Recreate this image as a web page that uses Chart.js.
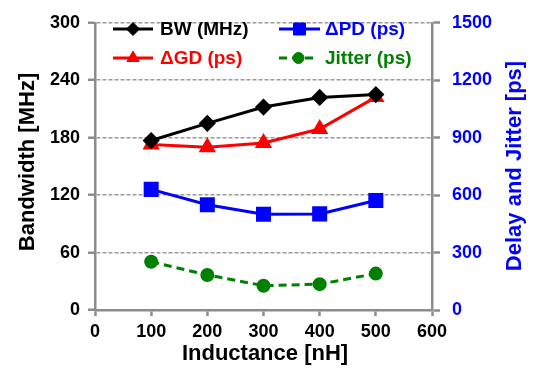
<!DOCTYPE html>
<html>
<head>
<meta charset="utf-8">
<script src="https://cdn.jsdelivr.net/npm/chart.js@4"></script>
<style>
  html, body { margin: 0; padding: 0; background: #fff; }
</style>
</head>
<body>
<canvas id="data-chart" width="535" height="375"></canvas>
<script>
// values
var inductance = [100, 200, 300, 400, 500];
var bandwidth = [177, 195, 212, 222, 225];      // MHz, left axis
var pdDelay = [630, 550, 500, 502, 572];        // ps, right axis
var gdDelay = [865, 850, 872, 945, 1112];       // ps, right axis
var jitter = [252, 183, 127, 135, 190];         // ps, right axis

var xTicks = [0, 100, 200, 300, 400, 500, 600];
var leftTicks = [0, 60, 120, 180, 240, 300];
var rightTicks = [0, 300, 600, 900, 1200, 1500];

var tickFont = { family: 'Liberation Sans', size: 18, weight: 'bold' };
var axisGray = '#8c8c8c';

function pts(ys) {
    return inductance.map(function (x, i) { return { x: x, y: ys[i] }; });
}

// legend drawn inside the plot, two columns
var legendSlots = [
    { ds: 0, x1: 113, x2: 153, y: 29, tx: 160 },
    { ds: 1, x1: 279, x2: 320, y: 29, tx: 325 },
    { ds: 2, x1: 113, x2: 153, y: 58, tx: 160 },
    { ds: 3, x1: 279, x2: 318, y: 58, tx: 325 }
];

var extras = {
    id: 'extras',
    afterDraw: function (chart) {
        var ctx = chart.ctx;
        ctx.save();
        ctx.font = 'bold 19px "Liberation Sans"';
        ctx.textBaseline = 'middle';
        legendSlots.forEach(function (s) {
            var d = chart.data.datasets[s.ds];
            ctx.strokeStyle = d.borderColor;
            ctx.lineWidth = 3;
            ctx.setLineDash(d.borderDash || []);
            ctx.beginPath();
            ctx.moveTo(s.x1, s.y);
            ctx.lineTo(s.x2, s.y);
            ctx.stroke();
            ctx.setLineDash([]);
            ctx.fillStyle = d.pointBackgroundColor;
            ctx.lineWidth = 1;
            Chart.helpers.drawPoint(ctx, {
                pointStyle: d.pointStyle, radius: d.pointRadius, rotation: 0, borderWidth: 1
            }, (s.x1 + s.x2) / 2, s.y);
            ctx.fillStyle = d.borderColor;
            ctx.textAlign = 'left';
            ctx.fillText(d.label, s.tx, s.y + 1);
        });

        // axis titles
        ctx.textAlign = 'center';
        ctx.fillStyle = '#000';
        ctx.font = 'bold 22px "Liberation Sans"';
        ctx.fillText('Inductance [nH]', 265, 354);

        ctx.save();
        ctx.translate(28, 162);
        ctx.rotate(-Math.PI / 2);
        ctx.fillText('Bandwidth [MHz]', 0, 0);
        ctx.restore();

        ctx.save();
        ctx.translate(515, 166);
        ctx.rotate(-Math.PI / 2);
        ctx.fillStyle = '#0000ff';
        ctx.fillText('Delay and Jitter [ps]', 0, 0);
        ctx.restore();
        ctx.restore();
    }
};

var ctx = document.getElementById('data-chart').getContext('2d');
var chart = new Chart(ctx, {
    type: 'line',
    data: {
        datasets: [{
            label: 'BW (MHz)',
            data: pts(bandwidth),
            yAxisID: 'y',
            borderColor: '#000000',
            pointBackgroundColor: '#000000',
            pointBorderColor: '#000000',
            pointStyle: 'rectRot',
            pointRadius: 6.5,
            borderWidth: 3
        }, {
            label: '\u0394PD (ps)',
            data: pts(pdDelay),
            yAxisID: 'y1',
            borderColor: '#0000ff',
            pointBackgroundColor: '#0000ff',
            pointBorderColor: '#0000ff',
            pointStyle: 'rect',
            pointRadius: 8.5,
            borderWidth: 3
        }, {
            label: '\u0394GD (ps)',
            data: pts(gdDelay),
            yAxisID: 'y1',
            borderColor: '#ff0000',
            pointBackgroundColor: '#ff0000',
            pointBorderColor: '#ff0000',
            pointStyle: 'triangle',
            pointRadius: 7,
            borderWidth: 3
        }, {
            label: 'Jitter (ps)',
            data: pts(jitter),
            yAxisID: 'y1',
            borderColor: '#008000',
            pointBackgroundColor: '#008000',
            pointBorderColor: '#008000',
            pointStyle: 'circle',
            pointRadius: 5.5,
            borderWidth: 3,
            borderDash: [8, 5]
        }]
    },
    options: {
        responsive: false,
        animation: false,
        layout: { padding: { top: 13, bottom: 0, left: 0, right: 0 } },
        plugins: {
            legend: { display: false },
            tooltip: { enabled: false }
        },
        scales: {
            x: {
                type: 'linear',
                min: 0,
                max: 600,
                afterBuildTicks: function (s) { s.ticks = xTicks.map(function (v) { return { value: v }; }); },
                afterFit: function (s) { s.height = 65; },
                ticks: { font: tickFont, color: '#000', padding: 5, autoSkip: false, maxRotation: 0 },
                grid: { drawOnChartArea: false, tickLength: 6, tickColor: axisGray, tickWidth: 2.5 },
                border: { color: axisGray, width: 2.5 }
            },
            y: {
                position: 'left',
                min: 0,
                max: 300,
                afterBuildTicks: function (s) { s.ticks = leftTicks.map(function (v) { return { value: v }; }); },
                afterFit: function (s) { s.width = 95; },
                ticks: { font: tickFont, color: '#000', padding: 8 },
                grid: { color: '#9a9a9a', lineWidth: 1.5, tickLength: 7, tickColor: axisGray, tickWidth: 2.5, tickBorderDash: [] },
                border: { color: axisGray, width: 2.5, dash: [4, 2] }
            },
            y1: {
                position: 'right',
                min: 0,
                max: 1500,
                afterBuildTicks: function (s) { s.ticks = rightTicks.map(function (v) { return { value: v }; }); },
                afterFit: function (s) { s.width = 103; },
                ticks: { font: tickFont, color: '#0000ff', padding: 12, callback: function (v) { return String(v); } },
                grid: { drawOnChartArea: false, tickLength: 8, tickColor: axisGray, tickWidth: 2.5 },
                border: { color: axisGray, width: 2.5 }
            }
        }
    },
    plugins: [extras]
});
</script>
</body>
</html>
